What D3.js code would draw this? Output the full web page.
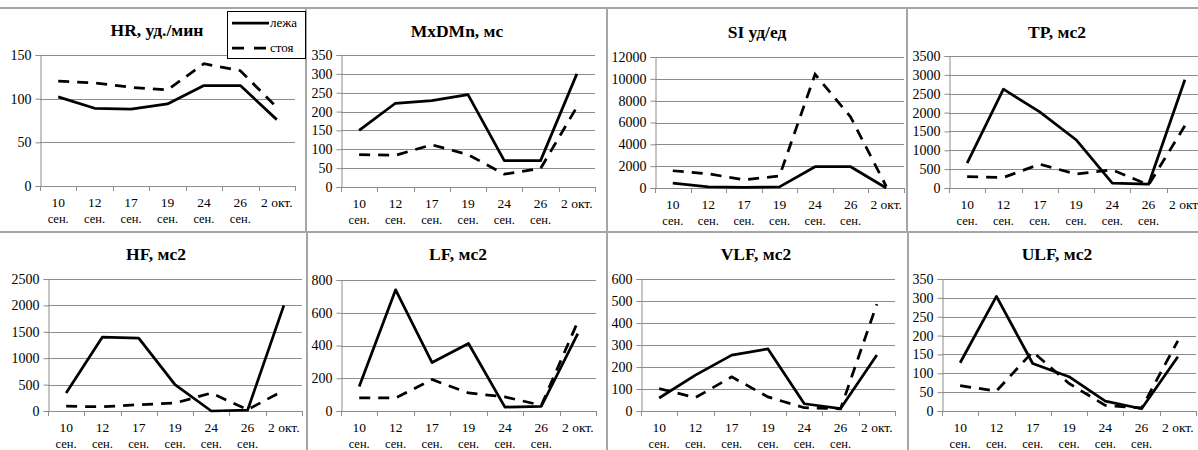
<!DOCTYPE html>
<html>
<head>
<meta charset="utf-8">
<script src="https://cdn.jsdelivr.net/npm/d3@7"></script>
<style>
  body { margin: 0; background: #fff; }
  svg { display: block; font-family: "Liberation Serif", "Times New Roman", serif; }
</style>
</head>
<body>
<script>

// categories (two-line labels as shown under the axis)
const categoryLines = [["10", "сен."], ["12", "сен."], ["17", "сен."], ["19", "сен."],
                       ["24", "сен."], ["26", "сен."], ["2 окт."]];
const seriesNames = ["лежа", "стоя"];

// values: lying (solid) / standing (dashed)
const hrLying      = [102, 89, 88, 94, 115, 115, 76];
const hrStanding   = [120, 118, 113, 110, 140, 132, 90];
const mxdmnLying   = [150, 222, 229, 245, 70, 70, 300];
const mxdmnStanding = [86, 84, 112, 86, 34, 49, 212];
const siLying      = [450, 100, 60, 100, 1950, 1950, 0];
const siStanding   = [1580, 1300, 760, 1100, 10420, 6500, 150];
const tpLying      = [660, 2620, 2020, 1280, 130, 100, 2870];
const tpStanding   = [300, 280, 630, 370, 480, 80, 1650];
const hfLying      = [340, 1400, 1380, 500, 0, 15, 2000];
const hfStanding   = [90, 80, 120, 150, 340, 25, 390];
const lfLying      = [150, 740, 296, 412, 24, 29, 473];
const lfStanding   = [80, 80, 192, 110, 86, 35, 545];
const vlfLying     = [59, 163, 254, 282, 33, 11, 255];
const vlfStanding  = [102, 61, 155, 64, 15, 10, 486];
const ulfLying     = [128, 304, 126, 91, 26, 6, 144];
const ulfStanding  = [67, 53, 157, 73, 15, 8, 186];

// axis settings
const titles   = ["HR, уд./мин", "MxDMn, мс", "SI уд/ед", "TP, мс2", "HF, мс2", "LF, мс2", "VLF, мс2", "ULF, мс2"];
const axisMax  = [150, 350, 12000, 3500, 2500, 800, 600, 350];
const axisStep = [50, 50, 2000, 500, 500, 200, 100, 50];
const lyingSeries    = [hrLying, mxdmnLying, siLying, tpLying, hfLying, lfLying, vlfLying, ulfLying];
const standingSeries = [hrStanding, mxdmnStanding, siStanding, tpStanding, hfStanding, lfStanding, vlfStanding, ulfStanding];

// layout of each small chart (plot area + title position), in pixels
const layout = [
    {x0: 40,  x1: 295,  y0: 55,  y1: 186, tx: 157,  ty: 36},
    {x0: 341, x1: 595,  y0: 55,  y1: 187, tx: 457,  ty: 37},
    {x0: 655, x1: 904,  y0: 57,  y1: 188, tx: 757,  ty: 38},
    {x0: 949, x1: 1203, y0: 56,  y1: 188, tx: 1057, ty: 38},
    {x0: 48,  x1: 302,  y0: 279, y1: 411, tx: 156,  ty: 260},
    {x0: 341, x1: 596,  y0: 280, y1: 411, tx: 458,  ty: 260},
    {x0: 641, x1: 895,  y0: 279, y1: 411, tx: 756,  ty: 260},
    {x0: 942, x1: 1196, y0: 279, y1: 411, tx: 1057, ty: 260}
];

const width = 1198, height = 450;
const gridColor = "#8c8c8c";
const borderColor = "#a6a6a6";

const svg = d3.select("body").append("svg")
    .attr("width", width)
    .attr("height", height);

// panel borders (Excel chart frames)
const borders = svg.append("g").attr("class", "borders")
    .attr("stroke", borderColor)
    .attr("stroke-width", 2)
    .attr("fill", "none");
borders.append("line").attr("x1", 0).attr("x2", width).attr("y1", 8).attr("y2", 8);
borders.append("line").attr("x1", 0).attr("x2", width).attr("y1", 232).attr("y2", 232);
[[306, 8, 232], [307, 232, height], [607, 8, 232], [607, 232, height], [907, 8, 232], [908, 232, height]]
    .forEach(function(d) {
        borders.append("line")
            .attr("x1", d[0]).attr("x2", d[0])
            .attr("y1", d[1]).attr("y2", d[2]);
    });

layout.forEach(function(L, i) {

    const g = svg.append("g").attr("class", "panel");

    const x = d3.scaleBand()
        .domain(d3.range(categoryLines.length))
        .range([L.x0, L.x1])
        .padding(0);

    const y = d3.scaleLinear()
        .domain([0, axisMax[i]])
        .range([L.y1, L.y0]);

    const ticks = d3.range(0, axisMax[i] + axisStep[i] / 2, axisStep[i]);

    // gridlines
    g.append("g").selectAll("line")
        .data(ticks.filter(t => t > 0))
        .join("line")
        .attr("x1", L.x0).attr("x2", L.x1)
        .attr("y1", d => Math.round(y(d)) + 0.5)
        .attr("y2", d => Math.round(y(d)) + 0.5)
        .attr("stroke", gridColor)
        .attr("stroke-width", 1);

    // y axis
    const yAxis = g.append("g")
        .attr("transform", "translate(" + (Math.round(L.x0) + 0.5) + ",0)")
        .call(d3.axisLeft(y).tickValues(ticks).tickSize(5).tickPadding(4).tickFormat(d3.format("d")));
    yAxis.select(".domain").attr("stroke", gridColor);
    yAxis.selectAll(".tick line").attr("stroke", gridColor);
    yAxis.selectAll("text")
        .attr("fill", "#000")
        .style("font-family", "'Liberation Serif', serif")
        .style("font-size", "14px");

    // x axis baseline and category tick marks
    g.append("line")
        .attr("x1", L.x0).attr("x2", L.x1)
        .attr("y1", Math.round(L.y1) + 0.5).attr("y2", Math.round(L.y1) + 0.5)
        .attr("stroke", gridColor);
    g.append("g").selectAll("line")
        .data(d3.range(categoryLines.length + 1))
        .join("line")
        .attr("x1", d => Math.round(L.x0 + d * x.bandwidth()) + 0.5)
        .attr("x2", d => Math.round(L.x0 + d * x.bandwidth()) + 0.5)
        .attr("y1", L.y1).attr("y2", L.y1 + 5)
        .attr("stroke", gridColor);

    // category labels
    const labels = g.append("g").selectAll("text")
        .data(categoryLines)
        .join("text")
        .attr("text-anchor", "middle")
        .attr("fill", "#000")
        .style("font-size", "13.5px");
    labels.each(function(lines, k) {
        const cx = x(k) + x.bandwidth() / 2;
        d3.select(this).selectAll("tspan")
            .data(lines)
            .join("tspan")
            .attr("x", cx)
            .attr("y", (d, j) => L.y1 + 21 + j * 16)
            .style("font-size", (d, j) => j === 1 ? "12.5px" : null)
            .text(d => d);
    });

    // title
    g.append("text")
        .attr("x", L.tx).attr("y", L.ty)
        .attr("text-anchor", "middle")
        .attr("font-weight", "bold")
        .style("font-size", "17.5px")
        .text(titles[i]);

    // series lines
    const line = d3.line()
        .x((d, k) => x(k) + x.bandwidth() / 2)
        .y(d => y(d));

    g.append("path")
        .datum(standingSeries[i])
        .attr("d", line)
        .attr("fill", "none")
        .attr("stroke", "#000")
        .attr("stroke-width", 2.75)
        .attr("stroke-dasharray", "11,8");

    g.append("path")
        .datum(lyingSeries[i])
        .attr("d", line)
        .attr("fill", "none")
        .attr("stroke", "#000")
        .attr("stroke-width", 2.75)
        .attr("stroke-linejoin", "round");
});

// legend (in the first chart)
const legend = svg.append("g").attr("class", "legend");
legend.append("rect")
    .attr("x", 227.5).attr("y", 11.5)
    .attr("width", 78).attr("height", 47)
    .attr("fill", "#fff")
    .attr("stroke", "#000")
    .attr("stroke-width", 1);
seriesNames.forEach(function(name, i) {
    const ly = 23 + i * 25;
    legend.append("line")
        .attr("x1", 232).attr("x2", 269)
        .attr("y1", ly).attr("y2", ly)
        .attr("stroke", "#000")
        .attr("stroke-width", 2.75)
        .attr("stroke-dasharray", i === 1 ? "12,10" : null);
    legend.append("text")
        .attr("x", 270).attr("y", ly + 4)
        .style("font-size", "13px")
        .text(name);
});

</script>
</body>
</html>
